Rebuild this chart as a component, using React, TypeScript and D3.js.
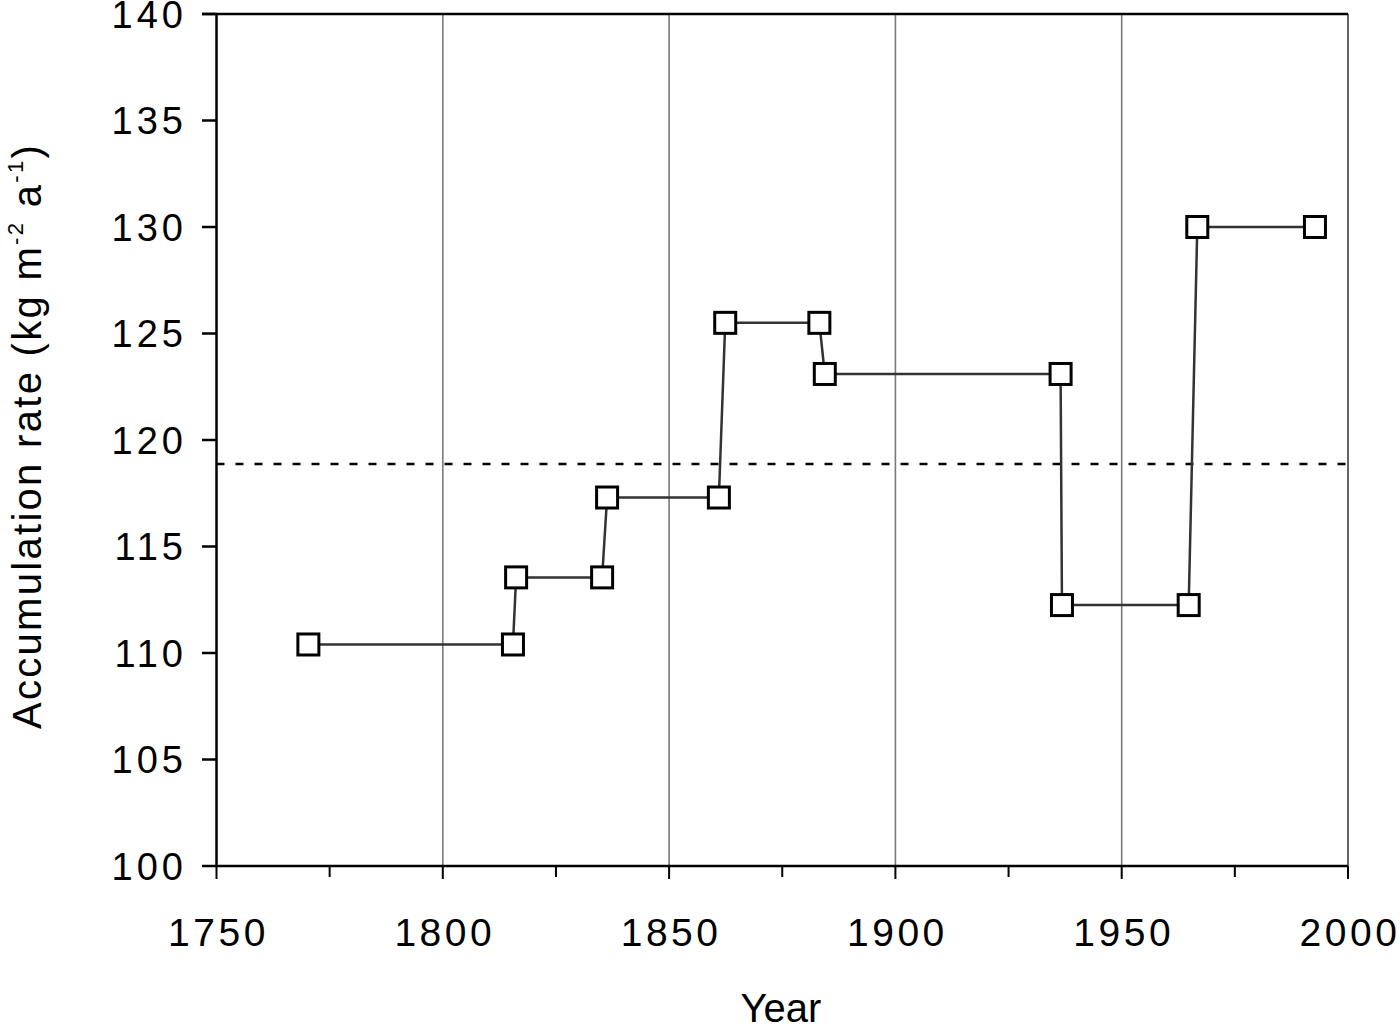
import React from "react";
import * as d3 from "d3";

const years = [1770.3, 1815.5, 1816.2, 1835.2, 1836.3, 1861.0, 1862.4, 1883.2, 1884.4, 1936.5, 1936.8, 1964.8, 1966.7, 1992.7];
const rates = [110.4, 110.4, 113.55, 113.55, 117.3, 117.3, 125.5, 125.5, 123.1, 123.1, 112.25, 112.25, 130.0, 130.0];
const meanRate = 118.87;
const xMajorTicks = [1750, 1800, 1850, 1900, 1950, 2000];
const xMinorTicks = [1775, 1825, 1875, 1925, 1975];
const yTicks = [100, 105, 110, 115, 120, 125, 130, 135, 140];
const gridYears = [1800, 1850, 1900, 1950];

const W = 1400;
const H = 1026;
const L = 216.5, R = 1348, T = 14, B = 866;

export default function App() {
  const x = d3.scaleLinear().domain([1750, 2000]).range([L, R]);
  const y = d3.scaleLinear().domain([100, 140]).range([B, T]);
  const pts = years.map((yr, i) => [x(yr), y(rates[i])] as [number, number]);
  const line = d3.line()(pts) || "";
  const font = "'Liberation Sans', Arial, Helvetica, sans-serif";
  const ms = 21;
  return (
    <svg width={W} height={H} style={{ position: "absolute", left: 0, top: 0, background: "#fff" }}>
      <rect x={0} y={0} width={W} height={H} fill="#fff" />
      {gridYears.map((g) => (
        <line key={g} x1={x(g)} x2={x(g)} y1={T} y2={B} stroke="#7a7a7a" strokeWidth={1.6} />
      ))}
      <line x1={R} x2={R} y1={T} y2={B} stroke="#666" strokeWidth={2} />
      <line x1={L} x2={L} y1={T} y2={B} stroke="#000" strokeWidth={2.5} />
      <line x1={202} x2={R} y1={T} y2={T} stroke="#000" strokeWidth={2.5} />
      <line x1={L} x2={R} y1={B} y2={B} stroke="#000" strokeWidth={2.5} />
      {yTicks.map((t) => (
        <g key={t}>
          <line x1={202} x2={L} y1={y(t)} y2={y(t)} stroke="#000" strokeWidth={2.5} />
          <text x={187} y={y(t)} dy="0.36em" textAnchor="end" fontFamily={font} fontSize={38} letterSpacing={4} fill="#000">{t}</text>
        </g>
      ))}
      {xMajorTicks.map((t) => (
        <g key={t}>
          <line x1={x(t)} x2={x(t)} y1={B} y2={B + 13} stroke="#000" strokeWidth={2} />
          <text x={x(t) + 2} y={946} textAnchor="middle" fontFamily={font} fontSize={39} letterSpacing={3.5} fill="#000">{t}</text>
        </g>
      ))}
      {xMinorTicks.map((t) => (
        <line key={t} x1={x(t)} x2={x(t)} y1={B} y2={B + 11} stroke="#000" strokeWidth={2} />
      ))}
      <line x1={L} x2={R} y1={y(meanRate)} y2={y(meanRate)} stroke="#000" strokeWidth={2.5} strokeDasharray="8 11" />
      <path d={line} fill="none" stroke="#333" strokeWidth={2.5} />
      {pts.map(([px, py], i) => (
        <rect key={i} x={px - ms / 2} y={py - ms / 2} width={ms} height={ms} fill="#fff" stroke="#000" strokeWidth={3} />
      ))}
      <text transform={`translate(41, 436) rotate(-90)`} textAnchor="middle" fontFamily={font} fontSize={40} letterSpacing={2.3} fill="#000">
        Accumulation rate (kg m<tspan fontSize={22} dy={-18}>-2</tspan><tspan dy={18}> a</tspan><tspan fontSize={22} dy={-18}>-1</tspan><tspan dy={18}>)</tspan>
      </text>
      <text x={781} y={1022} textAnchor="middle" fontFamily={font} fontSize={40} fill="#000">Year</text>
    </svg>
  );
}
